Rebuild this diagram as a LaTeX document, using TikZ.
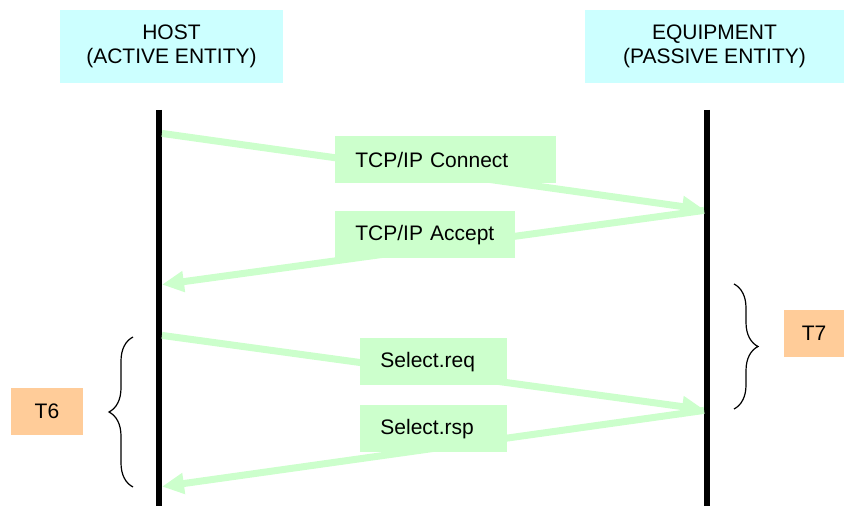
\documentclass[tikz,border=0pt]{standalone}
\usepackage{fontspec}
\setmainfont{Liberation Sans}
\usetikzlibrary{arrows.meta, positioning, decorations.pathreplacing}
\definecolor{entityfill}{HTML}{CCFFFF}
\definecolor{msgfill}{HTML}{CCFFCC}
\definecolor{timerfill}{HTML}{FFCC99}
\tikzset{
    entity/.style = {
        rectangle, fill=entityfill, align=center, minimum height=36.5pt, inner sep=0pt
    },
    msgbox/.style = {
        rectangle, fill=msgfill, anchor=north west, align=left, inner xsep=10pt, inner ysep=0pt, minimum height=23.5pt
    },
    timer/.style = {
        rectangle, fill=timerfill, minimum height=23.5pt, inner sep=0pt
    },
    lifeline/.style = {line width=3pt},
    signal/.style = {
        draw=msgfill, line width=3.5pt, shorten <=1.5pt, shorten >=1.5pt, -{Triangle[width=10pt,length=11pt]}
    },
    timebrace/.style = {semithick, decorate, decoration={brace, amplitude=12pt}}
}
\begin{document}
\begin{tikzpicture}[x=0.5pt, y=-0.5pt, every node/.style={font=\fontsize{10.5}{12}\selectfont}]
        \useasboundingbox (0,0) rectangle (844,506);
        % the two entities
        \node[entity, minimum width=111.5pt] (host) at (171.5,46.5) {HOST\\(ACTIVE ENTITY)};
        \node[entity, minimum width=129.5pt] (equip) at (714.5,46.5) {EQUIPMENT\\(PASSIVE ENTITY)};

        % lifelines
        \coordinate (hostTop) at (159,110);
        \coordinate (hostEnd) at (159,506);
        \coordinate (equipTop) at (707,110);
        \coordinate (equipEnd) at (707,506);
        \draw[lifeline] (hostTop) -- (hostEnd);
        \draw[lifeline] (equipTop) -- (equipEnd);

        % message points
        \coordinate (h1) at (159,133);
        \coordinate (e1) at (707,210);
        \coordinate (h2) at (159,285);
        \coordinate (h3) at (159,335);
        \coordinate (e3) at (707,410);
        \coordinate (h4) at (159,487);
        \draw[signal] (h1) -- (e1);
        \draw[signal] (e1) -- (h2);
        \draw[signal] (h3) -- (e3);
        \draw[signal] (e3) -- (h4);

        % message labels
        \node[msgbox, text width=90.5pt] (connect) at (335,136) {TCP/IP Connect};
        \node[msgbox, text width=70pt] (accept) at (335,211) {TCP/IP Accept};
        \node[msgbox, text width=53.5pt] (selreq) at (360,338) {Select.req};
        \node[msgbox, text width=53.5pt] (selrsp) at (360,405) {Select.rsp};

        % timers
        \draw[timebrace] (133,487) -- (133,337);
        \draw[timebrace] (734,284) -- (734,409);
        \node[timer, minimum width=36pt] (t6) at (47,411.5) {T6};
        \node[timer, minimum width=30pt] (t7) at (814,333.5) {T7};
\end{tikzpicture}
\end{document}
